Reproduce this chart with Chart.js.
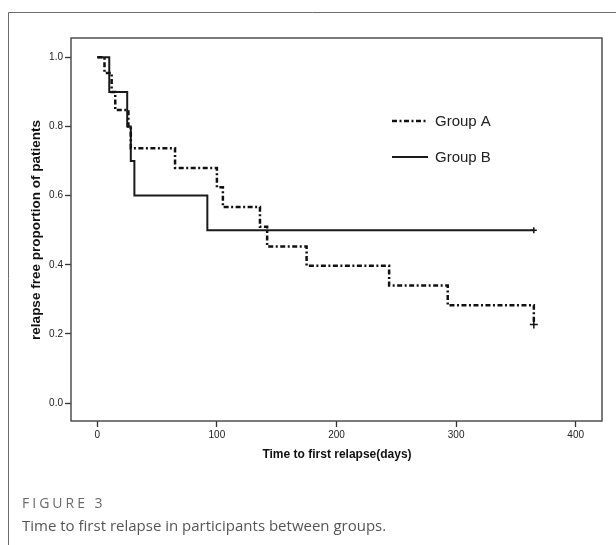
<!DOCTYPE html>
<html>
<head>
<meta charset="utf-8">
<script src="https://cdn.jsdelivr.net/npm/chart.js@4.4.1/dist/chart.umd.min.js"></script>
<style>
html,body{margin:0;padding:0;background:#fff;}
canvas{display:block;}
</style>
</head>
<body>
<canvas id="c" width="616" height="545"></canvas>
<script>
// ---- data ----
const groupATime = [0, 6, 12, 15, 26, 28, 65, 100, 105, 136, 142, 175, 244, 293, 365];
const groupASurv = [1.0, 0.955, 0.90, 0.848, 0.80, 0.737, 0.680, 0.624, 0.567, 0.510, 0.453, 0.397, 0.340, 0.283, 0.227];
const groupBTime = [0, 10, 25, 28, 31, 92, 365];
const groupBSurv = [1.0, 0.9, 0.8, 0.7, 0.6, 0.5, 0.5];
const censorATime = [365];
const censorASurv = [0.227];
const censorBTime = [365];
const censorBSurv = [0.5];
const seriesNames = ["Group A", "Group B"];
const xTickValues = [0, 100, 200, 300, 400];
const yTickValues = [0.0, 0.2, 0.4, 0.6, 0.8, 1.0];
const xTitle = "Time to first relapse(days)";
const yTitle = "relapse free proportion of patients";
const figLabel = "FIGURE 3";
const figCaption = "Time to first relapse in participants between groups.";

const toPts = (xs, ys) => xs.map((x, i) => ({x: x, y: ys[i]}));

const dashA = [5, 2.5, 2, 2.5];

const decorPlugin = {
  id: 'decor',
  afterDraw(chart) {
    const ctx = chart.ctx;
    const a = chart.chartArea;
    ctx.save();
    // outer figure frame (left + top)
    ctx.strokeStyle = '#6b6b6b';
    ctx.lineWidth = 1;
    ctx.beginPath();
    ctx.moveTo(8.5, 545);
    ctx.lineTo(8.5, 12.5);
    ctx.lineTo(616, 12.5);
    ctx.stroke();
    // plot box
    ctx.strokeStyle = '#444';
    ctx.lineWidth = 1.4;
    ctx.strokeRect(a.left, a.top, a.right - a.left, a.bottom - a.top);
    // axis titles
    ctx.fillStyle = '#111';
    ctx.font = 'bold 12px "Liberation Sans", Arial, sans-serif';
    ctx.textAlign = 'center';
    ctx.textBaseline = 'middle';
    ctx.fillText(xTitle, 337, 455);
    ctx.save();
    ctx.translate(36, 230);
    ctx.rotate(-Math.PI / 2);
    ctx.font = 'bold 13.5px "Liberation Sans", Arial, sans-serif';
    ctx.fillText(yTitle, 0, 0);
    ctx.restore();
    // legend
    const ds = chart.data.datasets;
    const leg = [{y: 121, ds: ds[0]}, {y: 157, ds: ds[1]}];
    leg.forEach((l, i) => {
      ctx.save();
      ctx.strokeStyle = l.ds.borderColor;
      ctx.lineWidth = l.ds.borderWidth;
      ctx.setLineDash(l.ds.borderDash || []);
      ctx.beginPath();
      ctx.moveTo(392, l.y);
      ctx.lineTo(428, l.y);
      ctx.stroke();
      ctx.restore();
      ctx.fillStyle = '#222';
      ctx.font = '15px "Liberation Sans", Arial, sans-serif';
      ctx.textAlign = 'left';
      ctx.textBaseline = 'middle';
      ctx.fillText(seriesNames[i], 435, l.y + 1);
    });
    // caption
    ctx.textAlign = 'left';
    ctx.textBaseline = 'alphabetic';
    ctx.fillStyle = '#6a6a6a';
    ctx.font = '14px "Open Sans", sans-serif';
    try { ctx.letterSpacing = '3px'; } catch (e) {}
    ctx.fillText(figLabel, 22, 508);
    try { ctx.letterSpacing = '0px'; } catch (e) {}
    ctx.fillStyle = '#555';
    ctx.font = '15px "Open Sans", sans-serif';
    ctx.fillText(figCaption, 22, 531);
    ctx.restore();
  }
};

new Chart(document.getElementById('c'), {
  type: 'line',
  data: {
    datasets: [
      {
        label: seriesNames[0],
        data: toPts(groupATime, groupASurv),
        stepped: 'before',
        borderColor: '#111',
        borderWidth: 2.5,
        borderDash: dashA,
        pointRadius: 0,
        fill: false
      },
      {
        label: seriesNames[1],
        data: toPts(groupBTime, groupBSurv),
        stepped: 'before',
        borderColor: '#1a1a1a',
        borderWidth: 2,
        pointRadius: 0,
        fill: false
      },
      {
        label: 'censA',
        type: 'scatter',
        data: toPts(censorATime, censorASurv),
        pointStyle: 'cross',
        pointRadius: 4,
        borderColor: '#111',
        borderWidth: 1.5,
        showLine: false
      },
      {
        label: 'censB',
        type: 'scatter',
        data: toPts(censorBTime, censorBSurv),
        pointStyle: 'cross',
        pointRadius: 3,
        borderColor: '#111',
        borderWidth: 1.5,
        showLine: false
      }
    ]
  },
  options: {
    responsive: false,
    animation: false,
    devicePixelRatio: 1,
    layout: {padding: {left: 0, top: 38, right: 14, bottom: 0}},
    plugins: {legend: {display: false}, tooltip: {enabled: false}},
    scales: {
      x: {
        type: 'linear',
        min: -22,
        max: 422,
        afterBuildTicks: s => { s.ticks = xTickValues.map(v => ({value: v})); },
        afterFit: s => { s.height = 124; },
        grid: {drawOnChartArea: false, drawTicks: true, tickLength: 6, tickColor: '#333', tickWidth: 1.3},
        border: {display: false},
        ticks: {
          color: '#222',
          font: {family: '"Liberation Sans", Arial, sans-serif', size: 10},
          padding: 2,
          maxRotation: 0,
          callback: v => String(v)
        }
      },
      y: {
        type: 'linear',
        min: -0.052,
        max: 1.056,
        afterBuildTicks: s => { s.ticks = yTickValues.map(v => ({value: v})); },
        afterFit: s => { s.width = 71; },
        grid: {drawOnChartArea: false, drawTicks: true, tickLength: 6, tickColor: '#333', tickWidth: 1.3},
        border: {display: false},
        ticks: {
          color: '#222',
          font: {family: '"Liberation Sans", Arial, sans-serif', size: 10},
          padding: 2,
          callback: v => Number(v).toFixed(1)
        }
      }
    }
  },
  plugins: [decorPlugin]
});
</script>
</body>
</html>
